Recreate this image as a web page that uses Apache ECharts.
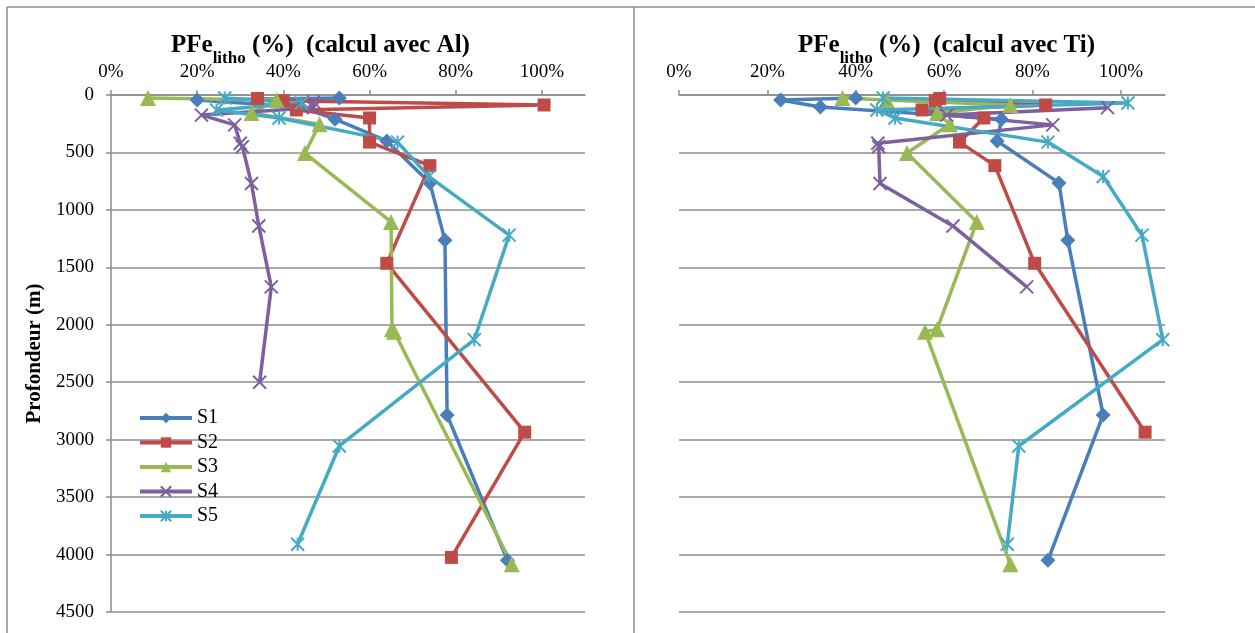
<!DOCTYPE html>
<html>
<head>
<meta charset="utf-8">
<script src="https://cdn.jsdelivr.net/npm/echarts@6/dist/echarts.min.js"></script>
<style>
  html, body { margin: 0; padding: 0; background: #fff; }
  #chart { width: 1255px; height: 633px; }
</style>
</head>
<body>
<div id="chart"></div>
<script>
// depths (m) and PFe litho (%) per sample, Al calc (left) and Ti calc (right)
var seriesNames = ['S1', 'S2', 'S3', 'S4', 'S5'];
var xTicks = [0, 20, 40, 60, 80, 100];

var depthS1 = [26, 44, 105, 210, 400, 765, 1265, 2785, 4050];
var alS1    = [53, 20, 44, 52, 64, 74, 77.5, 78, 92];
var tiS1    = [40, 23, 32, 73, 72, 86, 88, 96, 83.5];

var depthS2 = [30, 50, 87, 130, 200, 410, 615, 1465, 2935, 4025];
var alS2    = [34, 40, 100.5, 43, 60, 60, 74, 64, 96, 79];
var tiS2    = [59, 58, 83, 55, 69, 63.5, 71.5, 80.5, 105.5, null];

var depthS3 = [26, 44, 87, 157, 255, 505, 1105, 2040, 2060, 4085];
var alS3    = [8.6, 38.4, null, 32.6, 48.4, 45, 65, 65.2, 65.7, 93];
var tiS3    = [37, 47, 75, 58.4, 61.3, 51.6, 67.4, 58.4, 55.7, 75];

var depthS4 = [60, 110, 175, 260, 420, 450, 770, 1140, 1670, 2500];
var alS4    = [47, 47, 21, 28.7, 30, 30.5, 32.6, 34.3, 37.2, 34.5];
var tiS4    = [null, 97, 60.6, 84.6, 45, 45.2, 45.5, 62, 78.7, null];

var depthS5 = [26, 70, 130, 200, 410, 710, 1220, 2130, 3055, 3910];
var alS5    = [26.4, 44.2, 24.5, 39, 66.5, 73.8, 92.4, 84.3, 53, 43.3];
var tiS5    = [46.2, 101.6, 44.8, 48.9, 83.5, 96, 104.8, 109.5, 76.9, 74.3];

var depths = [depthS1, depthS2, depthS3, depthS4, depthS5];
var alVals = [alS1, alS2, alS3, alS4, alS5];
var tiVals = [tiS1, tiS2, tiS3, tiS4, tiS5];

var colors = ['#4A7EBB', '#BE4B48', '#98B954', '#7D60A0', '#46AAC5'];
var symbols = [
  'diamond',
  'rect',
  'triangle',
  'path://M0,0L10,10M10,0L0,10',
  'path://M0,0L10,10M10,0L0,10M5,0L5,10'
];
var symbolSizes = [15, 13, 16, 13, 13];

var serif = '"Liberation Serif", "Times New Roman", serif';
var gridColor = '#8c8c8c';

function pairs(vals, dep) {
  var out = [];
  for (var i = 0; i < dep.length; i++) {
    if (vals[i] != null) out.push([vals[i], dep[i]]);
  }
  return out;
}

function makeX(idx) {
  return {
    gridIndex: idx, type: 'value', position: 'top',
    min: 0, max: 110, interval: 20,
    axisLine: { show: true, lineStyle: { color: gridColor, width: 1.5 } },
    axisTick: { show: true, length: 5, customValues: xTicks, lineStyle: { color: gridColor, width: 1.5 } },
    axisLabel: {
      customValues: xTicks, formatter: '{value}%', margin: 13,
      fontFamily: serif, fontSize: 19, color: '#000'
    },
    splitLine: { show: false }
  };
}

function makeY(idx, withLabels) {
  return {
    gridIndex: idx, type: 'value', inverse: true,
    min: 0, max: 4500, interval: 500,
    name: withLabels ? 'Profondeur (m)' : '',
    nameLocation: 'middle', nameGap: 66,
    nameTextStyle: { fontFamily: serif, fontSize: 21, fontWeight: 'bold', color: '#000' },
    axisLine: { show: withLabels, lineStyle: { color: gridColor, width: 1.5 } },
    axisTick: { show: withLabels, length: 5, lineStyle: { color: gridColor, width: 1.5 } },
    axisLabel: {
      show: withLabels, margin: 17, formatter: function (v) { return String(v); },
      fontFamily: serif, fontSize: 19, color: '#000'
    },
    splitLine: { show: true, lineStyle: { color: gridColor, width: 1.5 } }
  };
}

var series = [];
[alVals, tiVals].forEach(function (panel, g) {
  for (var s = 0; s < seriesNames.length; s++) {
    var isPath = s >= 3;
    series.push({
      name: seriesNames[s], type: 'line',
      xAxisIndex: g, yAxisIndex: g,
      data: pairs(panel[s], depths[s]),
      symbol: symbols[s], symbolSize: symbolSizes[s],
      showAllSymbol: true,
      lineStyle: { color: colors[s], width: 3.5 },
      itemStyle: {
        color: colors[s], borderColor: colors[s],
        borderWidth: isPath ? 2 : 0
      },
      emphasis: { disabled: true }
    });
  }
});

function titleRich(suffix, left) {
  return {
    left: left, top: 26,
    text: '{a|PFe}{b|litho}{a| (%)  (calcul avec ' + suffix + ')}',
    textStyle: {
      rich: {
        a: { fontFamily: serif, fontSize: 25, fontWeight: 'bold', color: '#000', lineHeight: 30 },
        b: { fontFamily: serif, fontSize: 17, fontWeight: 'bold', color: '#000', lineHeight: 20, verticalAlign: 'bottom', padding: [0, 0, -6, 0] }
      }
    }
  };
}

var chart = echarts.init(document.getElementById('chart'));
chart.setOption({
  animation: false,
  color: colors,
  title: [titleRich('Al', 166), titleRich('Ti', 793)],
  grid: [
    { left: 111, top: 95, width: 474, height: 517 },
    { left: 679, top: 95, width: 486, height: 517 }
  ],
  xAxis: [makeX(0), makeX(1)],
  yAxis: [makeY(0, true), makeY(1, false)],
  legend: {
    orient: 'vertical', left: 133, top: 403,
    itemWidth: 52, itemHeight: 13, itemGap: 4.5,
    data: seriesNames,
    lineStyle: { width: 4 },
    textStyle: { fontFamily: serif, fontSize: 20, color: '#000', lineHeight: 20 }
  },
  graphic: [
    { type: 'line', shape: { x1: 7, y1: 7, x2: 1255, y2: 7 }, style: { stroke: '#8c8c8c', lineWidth: 1.5 } },
    { type: 'line', shape: { x1: 7, y1: 7, x2: 7, y2: 633 }, style: { stroke: '#8c8c8c', lineWidth: 1.5 } },
    { type: 'line', shape: { x1: 634, y1: 7, x2: 634, y2: 633 }, style: { stroke: '#8c8c8c', lineWidth: 1.5 } }
  ],
  series: series
});
</script>
</body>
</html>
